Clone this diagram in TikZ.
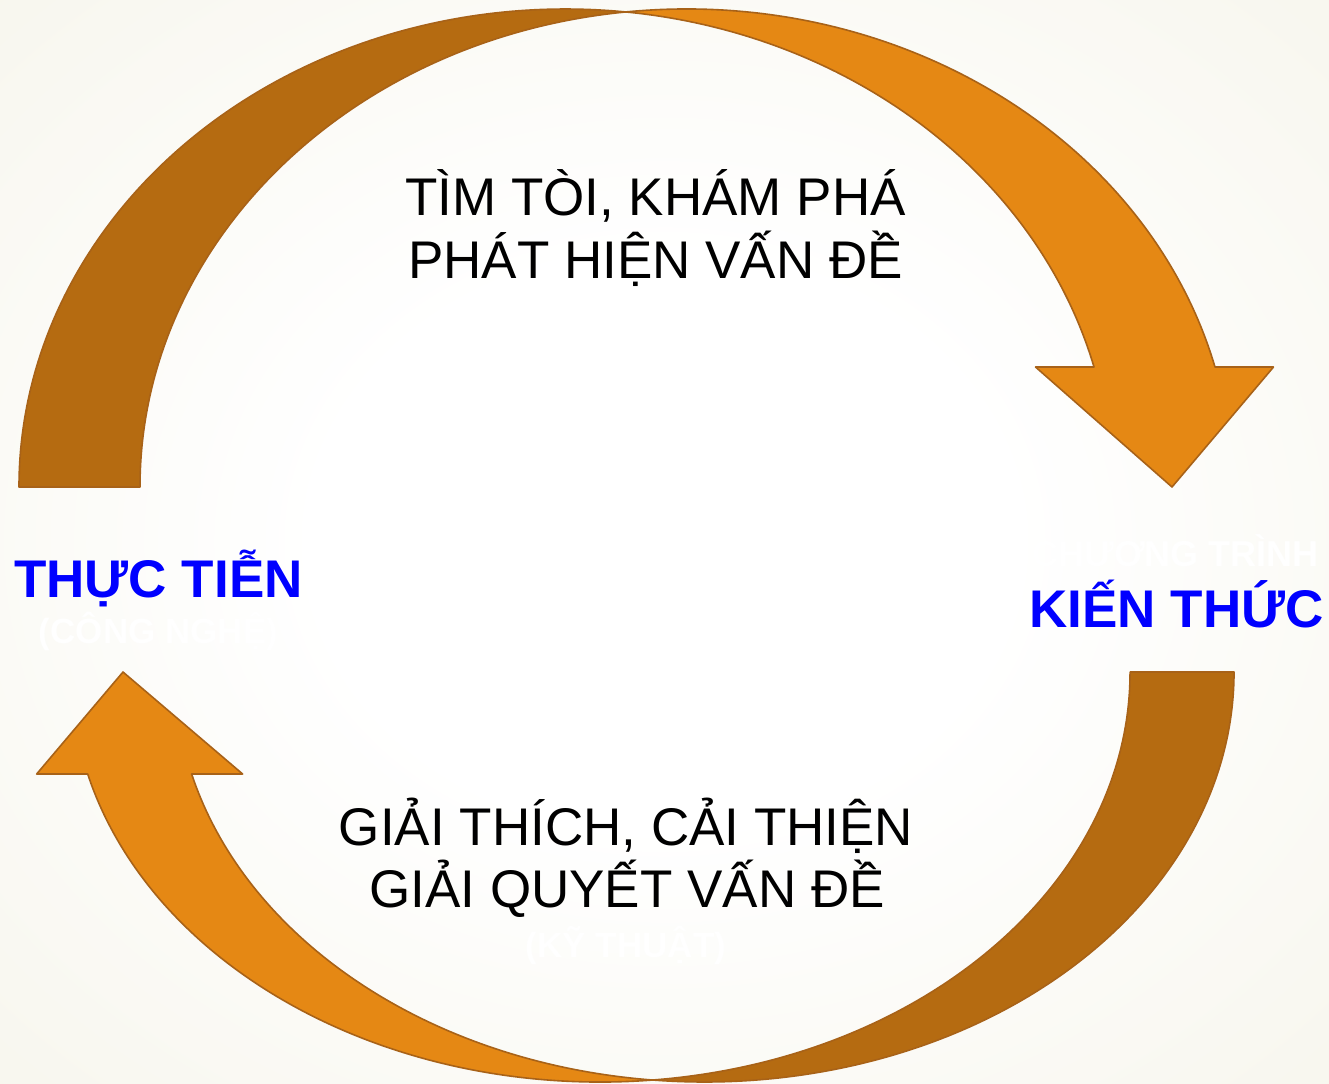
\documentclass[tikz,border=0pt]{standalone}
\usepackage{fontspec}
\setmainfont{Liberation Sans}

\definecolor{bgedge}{RGB}{236,233,212}
\definecolor{bandlight}{RGB}{229,136,20}
\definecolor{banddark}{RGB}{181,107,17}
\definecolor{bandedge}{RGB}{168,98,24}
\definecolor{keyblue}{RGB}{0,0,255}

% soft glow behind the cycle
\pgfdeclareradialshading{bgglow}{\pgfpoint{0bp}{0bp}}{%
  color(0bp)=(white); color(13bp)=(white); color(71bp)=(bgedge)}

\begin{document}
\begin{tikzpicture}[x=1bp, y=-1bp,
  band/.style={draw=bandedge, line width=1.6bp, line join=round},
  caption/.style={inner sep=0pt, anchor=base, text=black,
    font=\fontsize{53bp}{63bp}\selectfont},
  keyword/.style={inner sep=0pt, anchor=base, text=keyblue,
    font=\fontsize{53bp}{63bp}\selectfont\bfseries},
  ghost/.style={inner sep=0pt, anchor=base, text=white,
    font=\fontsize{35bp}{40bp}\selectfont\bfseries},
  ghostlight/.style={inner sep=0pt, anchor=base, text=white,
    font=\fontsize{35bp}{40bp}\selectfont}]

\useasboundingbox (0,0) rectangle (1329,1083);
\shade[shading=bgglow] (0,0) rectangle (1329,1083);

% upper curved arrow: bright band bending down to the right
\path[band, fill=bandlight]
  (625.75,11.94) arc[start angle=263.64, end angle=345.46, x radius=546.25, y radius=478]
  -- (1273.5,367) -- (1172,487) -- (1035.5,367) -- (1094,367)
  arc[start angle=345.46, end angle=276.36, x radius=546.25, y radius=478] -- cycle;
% upper curved arrow: darker back band on the left
\path[band, fill=banddark]
  (19,487) arc[start angle=180, end angle=276.36, x radius=546.25, y radius=478]
  arc[start angle=263.64, end angle=180, x radius=546.25, y radius=478] -- cycle;

% lower curved arrow: bright band rising to the left
\path[band, fill=bandlight]
  (652.5,1080.02) arc[start angle=84.365, end angle=165.595, x radius=529.5, y radius=410]
  -- (36.65,774) -- (123,672) -- (242.65,774) -- (191.65,774)
  arc[start angle=165.595, end angle=95.635, x radius=529.5, y radius=410] -- cycle;
% lower curved arrow: darker back band on the right
\path[band, fill=banddark]
  (1234,672) arc[start angle=0, end angle=95.635, x radius=529.5, y radius=410]
  arc[start angle=84.365, end angle=0, x radius=529.5, y radius=410] -- cycle;

% labels
\node[caption] (explore) at (655.5,215) {TÌM TÒI, KHÁM PHÁ};
\node[caption] (detect) at (655.5,278) {PHÁT HIỆN VẤN ĐỀ};
\node[ghostlight] (science) at (655,326) {(KHOA HỌC)};

\node[keyword] (practice) at (158.5,597) {THỰC TIỄN};
\node[ghost] (technology) at (158.5,643) {(CÔNG NGHỆ)};

\node[ghost, font=\fontsize{36bp}{40bp}\selectfont\bfseries] (program) at (1175.5,566) {CHƯƠNG TRÌNH};
\node[keyword] (knowledge) at (1176.5,627) {KIẾN THỨC};

\node[caption] (explain) at (626,845) {GIẢI THÍCH, CẢI THIỆN};
\node[caption] (solve) at (627,907) {GIẢI QUYẾT VẤN ĐỀ};
\node[ghost] (engineering) at (626,957) {(KỸ THUẬT)};

\end{tikzpicture}
\end{document}
